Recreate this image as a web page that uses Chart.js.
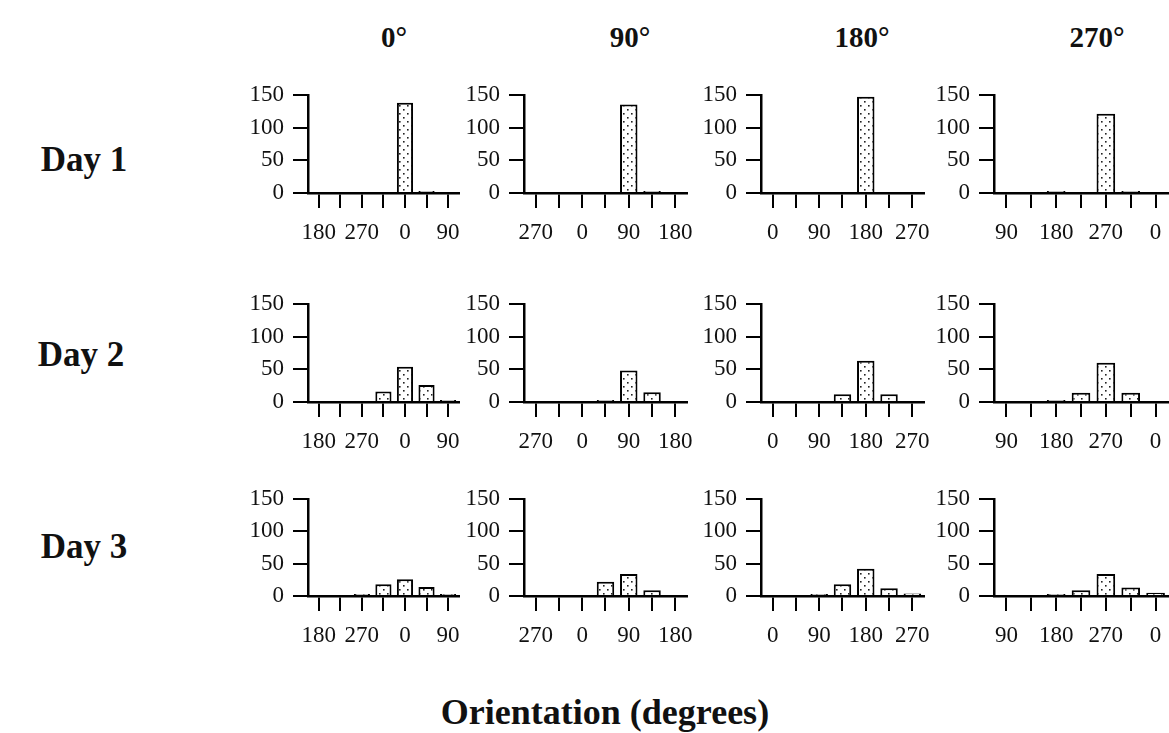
<!DOCTYPE html>
<html>
<head>
<meta charset="utf-8">
<script src="https://cdn.jsdelivr.net/npm/chart.js@4.4.0/dist/chart.umd.min.js"></script>
<style>
  body { margin: 0; background: #fff; width: 1169px; height: 733px; overflow: hidden; position: relative; }
  .lbl { position: absolute; font-family: "Liberation Serif", serif; font-weight: bold; color: #111; white-space: nowrap; transform: translate(-50%, -50%); }
  canvas { position: absolute; }
</style>
</head>
<body>

<div class="lbl" style="left:394px; top:37px; font-size:29px;">0°</div>
<div class="lbl" style="left:630px; top:37px; font-size:29px;">90°</div>
<div class="lbl" style="left:862px; top:37px; font-size:29px;">180°</div>
<div class="lbl" style="left:1097px; top:37px; font-size:29px;">270°</div>

<div class="lbl" style="left:84px; top:160px; font-size:35px;">Day 1</div>
<div class="lbl" style="left:81px; top:355px; font-size:35px;">Day 2</div>
<div class="lbl" style="left:84px; top:547px; font-size:35px;">Day 3</div>

<div class="lbl" style="left:605px; top:712px; font-size:36px;">Orientation (degrees)</div>

<script>
// bin labels for each column (start orientation 0, 90, 180, 270)
const bins0 = ['180', '225', '270', '315', '0', '45', '90'];
const bins90 = ['270', '315', '0', '45', '90', '135', '180'];
const bins180 = ['0', '45', '90', '135', '180', '225', '270'];
const bins270 = ['90', '135', '180', '225', '270', '315', '0'];
const binsByCol = [bins0, bins90, bins180, bins270];

// counts, one row per day, one array per column
const day1 = [
  [0, 0, 0, 0, 138, 3, 0],
  [0, 0, 0, 0, 135, 3, 0],
  [0, 0, 0, 0, 147, 0, 0],
  [0, 0, 3, 0, 121, 3, 0],
];
const day2 = [
  [0, 0, 0, 16, 54, 26, 3],
  [0, 0, 0, 3, 48, 15, 0],
  [0, 0, 0, 12, 63, 12, 0],
  [0, 0, 3, 14, 60, 14, 0],
];
const day3 = [
  [0, 0, 3, 18, 26, 14, 3],
  [0, 0, 0, 22, 34, 9, 0],
  [0, 0, 3, 18, 42, 12, 4],
  [0, 0, 3, 9, 34, 13, 5],
];
const days = [day1, day2, day3];

const yTicks = [0, 50, 100, 150];

// panel geometry (y axis x, plot width) and row (top, bottom)
const colAxisX = [308, 524, 761, 994];
const colWidth = [157, 174, 174, 174];
const rowTop = [92, 301, 496];
const rowBottom = [193, 402, 596];

const Y_W = 62, X_H = 52, PAD_T = 20, PAD_R = 6;

// dotted fill
function dotPattern() {
  const c = document.createElement('canvas');
  c.width = 8; c.height = 8;
  const g = c.getContext('2d');
  g.fillStyle = '#fff';
  g.fillRect(0, 0, 8, 8);
  g.fillStyle = '#222';
  g.fillRect(1, 1, 1.6, 1.6);
  g.fillRect(5, 5, 1.6, 1.6);
  return g.createPattern(c, 'repeat');
}
const pattern = dotPattern();

const tickFont = { family: 'Liberation Serif', size: 23 };

for (let r = 0; r < 3; r++) {
  for (let c = 0; c < 4; c++) {
    const plotH = rowBottom[r] - rowTop[r];
    const cv = document.createElement('canvas');
    cv.width = Y_W + colWidth[c] + PAD_R;
    cv.height = PAD_T + plotH + X_H;
    cv.style.left = (colAxisX[c] - Y_W) + 'px';
    cv.style.top = (rowTop[r] - PAD_T) + 'px';
    document.body.appendChild(cv);

    const labels = binsByCol[c];
    new Chart(cv, {
      type: 'bar',
      data: {
        labels: labels,
        datasets: [{
          data: days[r][c],
          backgroundColor: pattern,
          borderColor: '#000',
          borderWidth: 2,
          barPercentage: 0.75,
          categoryPercentage: 1,
        }]
      },
      options: {
        responsive: false,
        animation: false,
        layout: { padding: { top: PAD_T, right: PAD_R, left: 0, bottom: 0 } },
        plugins: { legend: { display: false }, tooltip: { enabled: false } },
        scales: {
          x: {
            offset: true,
            grid: { display: true, offset: false, drawOnChartArea: false, drawTicks: true, tickLength: 15, color: '#000', lineWidth: 2 },
            border: { display: true, color: '#000', width: 2.5 },
            ticks: {
              autoSkip: false, maxRotation: 0, padding: 11, color: '#111', font: tickFont,
              callback: function (v, i) { return i % 2 === 0 ? this.getLabelForValue(v) : ''; }
            },
            afterFit: (s) => { s.height = X_H; }
          },
          y: {
            min: 0, max: 150,
            afterBuildTicks: (s) => { s.ticks = yTicks.map(v => ({ value: v })); },
            grid: { display: true, drawOnChartArea: false, drawTicks: true, tickLength: 15, color: '#000', lineWidth: 2 },
            border: { display: true, color: '#000', width: 2.5 },
            ticks: { autoSkip: false, padding: 9, color: '#111', font: tickFont },
            afterFit: (s) => { s.width = Y_W; }
          }
        }
      }
    });
  }
}
</script>
</body>
</html>
